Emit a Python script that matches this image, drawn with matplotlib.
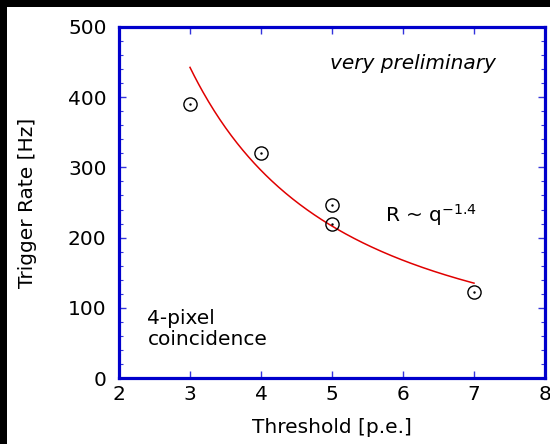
import numpy as np
import matplotlib
matplotlib.use("Agg")
import matplotlib.pyplot as plt
from matplotlib.ticker import MultipleLocator

# measured trigger rates
threshold = [3, 4, 5, 5, 7]
rate = [391, 321, 246, 220, 122]

# power-law fit R = A * q^-k
fit_A = 2060.0
fit_k = 1.4
fit_range = [3, 7]

plt.rcParams['font.family'] = ['DejaVu Sans']
plt.rcParams['savefig.transparent'] = False
fs = 14.5

fig = plt.figure(figsize=(5.5, 4.44), dpi=100)
fig.patch.set_facecolor('white')
fig.patch.set_alpha(1.0)
ax = fig.add_axes([119/550, 1-378/444, 426/550, 351/444])

q = np.linspace(fit_range[0], fit_range[1], 200)
ax.plot(q, fit_A * q**(-fit_k), color='#e00000', lw=1.1)

ax.plot(threshold, rate, 'o', mfc='none', mec='black', ms=9.5, mew=1.0)
ax.plot(threshold, rate, '.', color='black', ms=1.5)

ax.set_xlim(2, 8)
ax.set_ylim(0, 500)
ax.xaxis.set_major_locator(MultipleLocator(1))
ax.yaxis.set_major_locator(MultipleLocator(100))
ax.yaxis.set_minor_locator(MultipleLocator(20))

blue = '#0000cc'
for s in ax.spines.values():
    s.set_color(blue)
    s.set_linewidth(2.3)
ax.tick_params(which='both', direction='in', top=True, right=True,
               color='#3333dd', labelsize=fs, labelcolor='black')
ax.tick_params(which='major', length=5, width=1, pad=5)
ax.tick_params(axis='y', which='major', pad=9)
ax.tick_params(which='minor', length=3, width=0.8)

ax.set_xlabel('Threshold [p.e.]', fontsize=fs, labelpad=10)
ax.set_ylabel('Trigger Rate [Hz]', fontsize=fs, labelpad=22)

ax.text(0.885, 0.895, 'very preliminary', transform=ax.transAxes,
        fontsize=fs, style='italic', ha='right', va='center')
ax.text(5.75, 232, r'R ~ q$^{\mathregular{-1.4}}$', fontsize=fs, ha='left', va='center')
ax.text(2.4, 42, '4-pixel\ncoincidence', fontsize=fs, ha='left', va='bottom',
        linespacing=1.1)

# black strips along the top and left edges
for rect in ([0, 0, 7/550, 1], [0, 1-7/444, 1, 7/444]):
    strip = fig.add_axes(rect)
    strip.set_facecolor('black')
    strip.set_xticks([])
    strip.set_yticks([])
    for s in strip.spines.values():
        s.set_visible(False)

fig.savefig('out.png', dpi=100, facecolor='white')
